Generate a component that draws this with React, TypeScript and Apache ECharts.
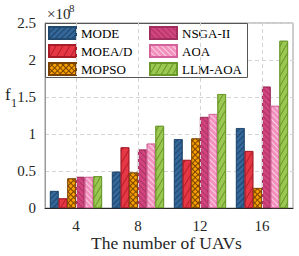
import React, { useEffect, useRef } from "react";
import * as echarts from "echarts";

const categories = ["4", "8", "12", "16"];
const seriesNames = ["MODE", "MOEA/D", "MOPSO", "NSGA-II", "AOA", "LLM-AOA"];
const modeValues = [0.23, 0.49, 0.93, 1.08];
const moeadValues = [0.13, 0.82, 0.65, 0.77];
const mopsoValues = [0.40, 0.48, 0.94, 0.27];
const nsgaValues = [0.42, 0.79, 1.23, 1.64];
const aoaValues = [0.42, 0.87, 1.27, 1.38];
const llmAoaValues = [0.43, 1.11, 1.54, 2.26];
const yTicks = [0, 0.5, 1, 1.5, 2, 2.5];

const FONT = "Liberation Serif";

const styles = [
  { color: "#34689a", border: "#22496e", decal: { symbol: "rect", symbolSize: 1, dashArrayX: [1, 0], dashArrayY: [1, 3], rotation: -Math.PI / 4, color: "rgba(10,30,60,0.5)" } },
  { color: "#e63745", border: "#a81c28", decal: { symbol: "rect", symbolSize: 1, dashArrayX: [1, 0], dashArrayY: [1, 5], rotation: -Math.PI / 3, color: "rgba(120,0,10,0.45)" } },
  { color: "#7a4300", border: "#7a4300", decal: { symbol: "rect", symbolSize: 1, dashArrayX: [3, 1], dashArrayY: [3, 1], rotation: Math.PI / 4, color: "#f7a000" } },
  { color: "#d1457f", border: "#a02e5c", decal: { symbol: "rect", symbolSize: 1, dashArrayX: [1, 0], dashArrayY: [1, 3], rotation: Math.PI / 4, color: "rgba(120,20,60,0.4)" } },
  { color: "#f291bd", border: "#d4639a", decal: { symbol: "rect", symbolSize: 1, dashArrayX: [1, 0], dashArrayY: [1, 3], rotation: Math.PI / 4, color: "rgba(255,235,245,0.7)" } },
  { color: "#9bc851", border: "#6a9828", decal: { symbol: "rect", symbolSize: 1, dashArrayX: [1, 0], dashArrayY: [1, 4], rotation: -Math.PI / 3, color: "rgba(60,100,10,0.5)" } },
];

const allValues = [modeValues, moeadValues, mopsoValues, nsgaValues, aoaValues, llmAoaValues];

export default function App() {
  const ref = useRef<HTMLDivElement>(null);
  useEffect(() => {
    if (!ref.current) return;
    const chart = echarts.init(ref.current, undefined, { renderer: "svg" });
    const barSeries = seriesNames.map((name, i) => ({
      name,
      type: "bar",
      data: allValues[i],
      barGap: "0%",
      barCategoryGap: "16%",
      z: 2,
      itemStyle: {
        color: styles[i].color,
        borderColor: styles[i].border,
        borderWidth: 0.8,
        decal: styles[i].decal,
      },
    }));
    const legendBase = {
      orient: "vertical",
      top: 26,
      padding: 0,
      itemGap: 4,
      itemWidth: 27,
      itemHeight: 12,
      icon: "rect",
      textStyle: { fontFamily: FONT, fontSize: 13, color: "#000" },
      selectedMode: false,
    };
    const option: any = {
      animation: false,
      backgroundColor: "#fff",
      textStyle: { fontFamily: FONT },
      grid: {
        left: 45,
        right: 6,
        top: 23,
        bottom: 48,
        show: true,
        borderColor: "#9a9a9a",
        borderWidth: 1,
        backgroundColor: "transparent",
      },
      legend: [
        { ...legendBase, data: seriesNames.slice(0, 3), left: 48 },
        { ...legendBase, data: seriesNames.slice(3), left: 149 },
      ],
      xAxis: {
        type: "category",
        data: categories,
        axisLine: { show: true, lineStyle: { color: "#262626", width: 1 } },
        axisTick: { show: false },
        axisLabel: { fontFamily: FONT, fontSize: 15, color: "#262626", margin: 10 },
        splitLine: { show: false },
      },
      yAxis: {
        type: "value",
        min: 0,
        max: 2.5,
        interval: 0.5,
        axisLine: { show: true, lineStyle: { color: "#9a9a9a", width: 1 } },
        axisTick: { show: false },
        axisLabel: {
          fontFamily: FONT,
          fontSize: 15,
          color: "#262626",
          margin: 9,
          formatter: (v: number) => (yTicks.includes(v) ? String(v) : ""),
        },
        splitLine: { show: true, lineStyle: { color: "#d4d4d4", type: [4, 3], width: 1 } },
      },
      series: [
        {
          type: "line",
          data: [],
          z: 1,
          silent: true,
          markLine: {
            silent: true,
            symbol: "none",
            label: { show: false },
            lineStyle: { color: "#d4d4d4", type: [4, 3], width: 1 },
            data: categories.map((c) => ({ xAxis: c })),
          },
        },
        ...barSeries,
      ],
      graphic: [
        {
          type: "rect",
          z: 3,
          shape: { x: 45.5, y: 23.5, width: 202, height: 54 },
          style: { fill: "#fff", stroke: "#555", lineWidth: 1 },
        },
        {
          type: "text",
          left: 47,
          top: 6,
          style: { text: "×10", fontFamily: FONT, fontSize: 15, fill: "#262626" },
        },
        {
          type: "text",
          left: 69,
          top: 2,
          style: { text: "8", fontFamily: FONT, fontSize: 11, fill: "#262626" },
        },
        {
          type: "text",
          left: 5,
          top: 86,
          style: { text: "f", fontFamily: FONT, fontSize: 17, fill: "#262626" },
        },
        {
          type: "text",
          left: 11,
          top: 97,
          style: { text: "1", fontFamily: FONT, fontSize: 12, fill: "#262626" },
        },
        {
          type: "text",
          left: 91,
          top: 234,
          style: { text: "The number of UAVs", fontFamily: FONT, fontSize: 17.5, fill: "#262626" },
        },
      ],
    };
    chart.setOption(option);
    return () => chart.dispose();
  }, []);
  return (
    <div
      ref={ref}
      style={{ position: "fixed", left: 0, top: 0, width: 299, height: 256, background: "#fff" }}
    />
  );
}
